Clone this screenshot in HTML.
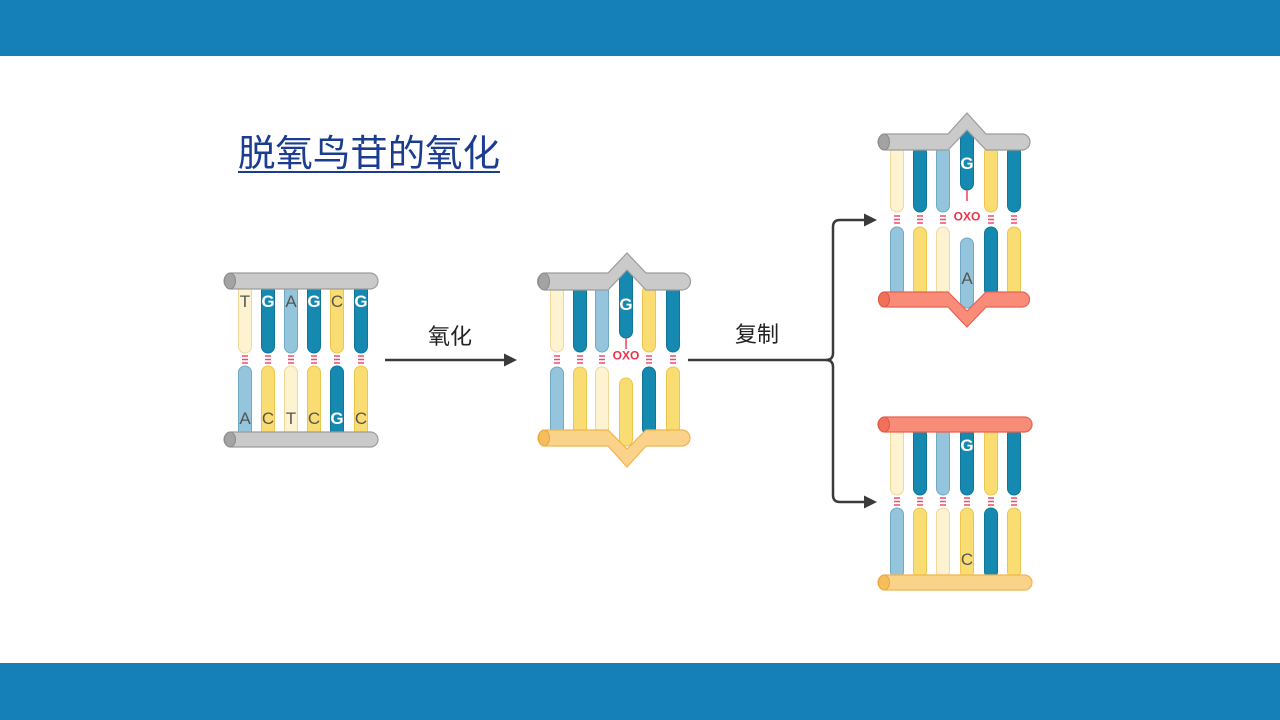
<!DOCTYPE html>
<html><head><meta charset="utf-8"><style>
html,body{margin:0;padding:0;width:1280px;height:720px;overflow:hidden;background:#fff}
svg{display:block}
</style></head><body>
<svg width="1280" height="720" viewBox="0 0 1280 720" xmlns="http://www.w3.org/2000/svg">
<defs>
<style>
.tl{fill:#1589b0;stroke:#0f7698;stroke-width:1}
.lb{fill:#94c5dc;stroke:#6fa9c6;stroke-width:1}
.ye{fill:#fadd72;stroke:#ebc64c;stroke-width:1}
.cr{fill:#fdf3d0;stroke:#efd89a;stroke-width:1}
.gr{fill:#cacaca;stroke:#9c9c9c;stroke-width:1.2}
.gc{fill:#a3a3a3;stroke:#8a8a8a;stroke-width:1}
.or{fill:#fbd28a;stroke:#f1b44c;stroke-width:1.2}
.oc{fill:#f6bd5c;stroke:#eaa63a;stroke-width:1}
.rd{fill:#f98c78;stroke:#e9624f;stroke-width:1.2}
.rc{fill:#f0705c;stroke:#df5643;stroke-width:1}
.ds{stroke:#f04b6a;stroke-width:1.6}
.lw{font-family:"Liberation Sans",sans-serif;font-weight:bold;font-size:17px;fill:#fff;text-anchor:middle}
.ld{font-family:"Liberation Sans",sans-serif;font-size:17px;fill:#555;text-anchor:middle}
.oxo{font-family:"Liberation Sans",sans-serif;font-weight:bold;font-size:12px;fill:#e8334a;text-anchor:middle}
.lab{font-family:"Liberation Sans","Noto Sans CJK SC",sans-serif;font-size:22px;fill:#222;text-anchor:middle}
.ar{stroke:#3a3a3a;stroke-width:2.5;fill:none}
</style>
</defs>

<rect x="0" y="0" width="1280" height="56" fill="#157fb8"/>
<rect x="0" y="663" width="1280" height="57" fill="#157fb8"/>

<text x="238" y="166" font-family="'Liberation Sans','Noto Sans CJK SC',sans-serif" font-size="37" fill="#1b3c8f" textLength="262" lengthAdjust="spacingAndGlyphs">脱氧鸟苷的氧化</text>
<rect x="238" y="171" width="262" height="2" fill="#1b3c8f"/>

<!-- Diagram 1 -->
<g>
<rect class="cr" x="238.5" y="282" width="13" height="71" rx="6.5"/>
<rect class="tl" x="261.5" y="282" width="13" height="71" rx="6.5"/>
<rect class="lb" x="284.5" y="282" width="13" height="71" rx="6.5"/>
<rect class="tl" x="307.5" y="282" width="13" height="71" rx="6.5"/>
<rect class="ye" x="330.5" y="282" width="13" height="71" rx="6.5"/>
<rect class="tl" x="354.5" y="282" width="13" height="71" rx="6.5"/>
<rect class="lb" x="238.5" y="366" width="13" height="72" rx="6.5"/>
<rect class="ye" x="261.5" y="366" width="13" height="72" rx="6.5"/>
<rect class="cr" x="284.5" y="366" width="13" height="72" rx="6.5"/>
<rect class="ye" x="307.5" y="366" width="13" height="72" rx="6.5"/>
<rect class="tl" x="330.5" y="366" width="13" height="72" rx="6.5"/>
<rect class="ye" x="354.5" y="366" width="13" height="72" rx="6.5"/>
<g class="ds">
<path d="M242 356H248M242 359.5H248M242 363H248"/>
<path d="M265 356H271M265 359.5H271M265 363H271"/>
<path d="M288 356H294M288 359.5H294M288 363H294"/>
<path d="M311 356H317M311 359.5H317M311 363H317"/>
<path d="M334 356H340M334 359.5H340M334 363H340"/>
<path d="M358 356H364M358 359.5H364M358 363H364"/>
</g>
<text class="ld" x="245" y="307">T</text>
<text class="lw" x="268" y="307">G</text>
<text class="ld" x="291" y="307">A</text>
<text class="lw" x="314" y="307">G</text>
<text class="ld" x="337" y="307">C</text>
<text class="lw" x="361" y="307">G</text>
<text class="ld" x="245" y="424">A</text>
<text class="ld" x="268" y="424">C</text>
<text class="ld" x="291" y="424">T</text>
<text class="ld" x="314" y="424">C</text>
<text class="lw" x="337" y="424">G</text>
<text class="ld" x="361" y="424">C</text>
<rect class="gr" x="224" y="273" width="154" height="16" rx="8"/>
<ellipse class="gc" cx="230" cy="281" rx="5.5" ry="8"/>
<rect class="gr" x="224" y="432" width="154" height="15" rx="7.5"/>
<ellipse class="gc" cx="230" cy="439.5" rx="5.5" ry="7.5"/>
</g>

<!-- Diagram 2 -->
<g>
<rect class="cr" x="550.5" y="285" width="13" height="67" rx="6.5"/>
<rect class="tl" x="573.5" y="285" width="13" height="67" rx="6.5"/>
<rect class="lb" x="595.5" y="285" width="13" height="67" rx="6.5"/>
<rect class="tl" x="619.5" y="270" width="13" height="68" rx="6.5"/>
<rect class="ye" x="642.5" y="285" width="13" height="67" rx="6.5"/>
<rect class="tl" x="666.5" y="285" width="13" height="67" rx="6.5"/>
<rect class="lb" x="550.5" y="367" width="13" height="68" rx="6.5"/>
<rect class="ye" x="573.5" y="367" width="13" height="68" rx="6.5"/>
<rect class="cr" x="595.5" y="367" width="13" height="68" rx="6.5"/>
<rect class="ye" x="619.5" y="378" width="13" height="68" rx="6.5"/>
<rect class="tl" x="642.5" y="367" width="13" height="68" rx="6.5"/>
<rect class="ye" x="666.5" y="367" width="13" height="68" rx="6.5"/>
<g class="ds">
<path d="M554 356H560M554 359.5H560M554 363H560"/>
<path d="M577 356H583M577 359.5H583M577 363H583"/>
<path d="M599 356H605M599 359.5H605M599 363H605"/>
<path d="M646 356H652M646 359.5H652M646 363H652"/>
<path d="M670 356H676M670 359.5H676M670 363H676"/>
<path d="M626 338V349"/>
</g>
<text class="oxo" x="626" y="359.5">OXO</text>
<text class="lw" x="626" y="310">G</text>
<path class="gr" d="M546 273H608L627 253L646 273H682A8.5 8.5 0 0 1 682 290H646L627 270L608 290H546A8.5 8.5 0 0 1 546 273Z"/>
<ellipse class="gc" cx="544" cy="281.5" rx="5.5" ry="8.5"/>
<path class="or" d="M546 430H608L627 449L646 430H682A8 8 0 0 1 682 446H646L627 467L608 446H546A8 8 0 0 1 546 430Z"/>
<ellipse class="oc" cx="544" cy="438" rx="5.5" ry="8"/>
</g>

<!-- Diagram 3 -->
<g>
<rect class="cr" x="890.5" y="146" width="13" height="66" rx="6.5"/>
<rect class="tl" x="913.5" y="146" width="13" height="66" rx="6.5"/>
<rect class="lb" x="936.5" y="146" width="13" height="66" rx="6.5"/>
<rect class="tl" x="960.5" y="130" width="13" height="60" rx="6.5"/>
<rect class="ye" x="984.5" y="146" width="13" height="66" rx="6.5"/>
<rect class="tl" x="1007.5" y="146" width="13" height="66" rx="6.5"/>
<rect class="lb" x="890.5" y="227" width="13" height="69" rx="6.5"/>
<rect class="ye" x="913.5" y="227" width="13" height="69" rx="6.5"/>
<rect class="cr" x="936.5" y="227" width="13" height="69" rx="6.5"/>
<rect class="lb" x="960.5" y="238" width="13" height="70" rx="6.5"/>
<rect class="tl" x="984.5" y="227" width="13" height="69" rx="6.5"/>
<rect class="ye" x="1007.5" y="227" width="13" height="69" rx="6.5"/>
<g class="ds">
<path d="M894 216H900M894 219.5H900M894 223H900"/>
<path d="M917 216H923M917 219.5H923M917 223H923"/>
<path d="M940 216H946M940 219.5H946M940 223H946"/>
<path d="M988 216H994M988 219.5H994M988 223H994"/>
<path d="M1011 216H1017M1011 219.5H1017M1011 223H1017"/>
<path d="M967 190V201"/>
</g>
<text class="oxo" x="967" y="220.5">OXO</text>
<text class="lw" x="967" y="169">G</text>
<text class="ld" x="967" y="284">A</text>
<path class="gr" d="M886 134H948L967 113L986 134H1022A8 8 0 0 1 1022 150H986L967 130L948 150H886A8 8 0 0 1 886 134Z"/>
<ellipse class="gc" cx="884" cy="142" rx="5.5" ry="8"/>
<path class="rd" d="M886 292H948L967 311L986 292H1022A7.5 7.5 0 0 1 1022 307H986L967 327L948 307H886A7.5 7.5 0 0 1 886 292Z"/>
<ellipse class="rc" cx="884" cy="299.5" rx="5.5" ry="7.5"/>
</g>

<!-- Diagram 4 -->
<g>
<rect class="cr" x="890.5" y="428" width="13" height="67" rx="6.5"/>
<rect class="tl" x="913.5" y="428" width="13" height="67" rx="6.5"/>
<rect class="lb" x="936.5" y="428" width="13" height="67" rx="6.5"/>
<rect class="tl" x="960.5" y="428" width="13" height="67" rx="6.5"/>
<rect class="ye" x="984.5" y="428" width="13" height="67" rx="6.5"/>
<rect class="tl" x="1007.5" y="428" width="13" height="67" rx="6.5"/>
<rect class="lb" x="890.5" y="508" width="13" height="70" rx="6.5"/>
<rect class="ye" x="913.5" y="508" width="13" height="70" rx="6.5"/>
<rect class="cr" x="936.5" y="508" width="13" height="70" rx="6.5"/>
<rect class="ye" x="960.5" y="508" width="13" height="70" rx="6.5"/>
<rect class="tl" x="984.5" y="508" width="13" height="70" rx="6.5"/>
<rect class="ye" x="1007.5" y="508" width="13" height="70" rx="6.5"/>
<g class="ds">
<path d="M894 498H900M894 501.5H900M894 505H900"/>
<path d="M917 498H923M917 501.5H923M917 505H923"/>
<path d="M940 498H946M940 501.5H946M940 505H946"/>
<path d="M964 498H970M964 501.5H970M964 505H970"/>
<path d="M988 498H994M988 501.5H994M988 505H994"/>
<path d="M1011 498H1017M1011 501.5H1017M1011 505H1017"/>
</g>
<text class="lw" x="967" y="451">G</text>
<text class="ld" x="967" y="565">C</text>
<rect class="rd" x="878" y="417" width="154" height="15" rx="7.5"/>
<ellipse class="rc" cx="884" cy="424.5" rx="5.5" ry="7.5"/>
<rect class="or" x="878" y="575" width="154" height="15" rx="7.5"/>
<ellipse class="oc" cx="884" cy="582.5" rx="5.5" ry="7.5"/>
</g>

<!-- Arrows -->
<path class="ar" d="M385 360H507"/>
<polygon points="504,353.5 517,360 504,366.5" fill="#3a3a3a"/>
<text class="lab" x="450" y="344">氧化</text>

<path class="ar" d="M688 360H826Q833 360 833 353V227Q833 220 840 220H866"/>
<path class="ar" d="M826 360Q833 360 833 367V495Q833 502 840 502H866"/>
<polygon points="864,213.5 877,220 864,226.5" fill="#3a3a3a"/>
<polygon points="864,495.5 877,502 864,508.5" fill="#3a3a3a"/>
<text class="lab" x="757" y="342">复制</text>
</svg>
</body></html>
